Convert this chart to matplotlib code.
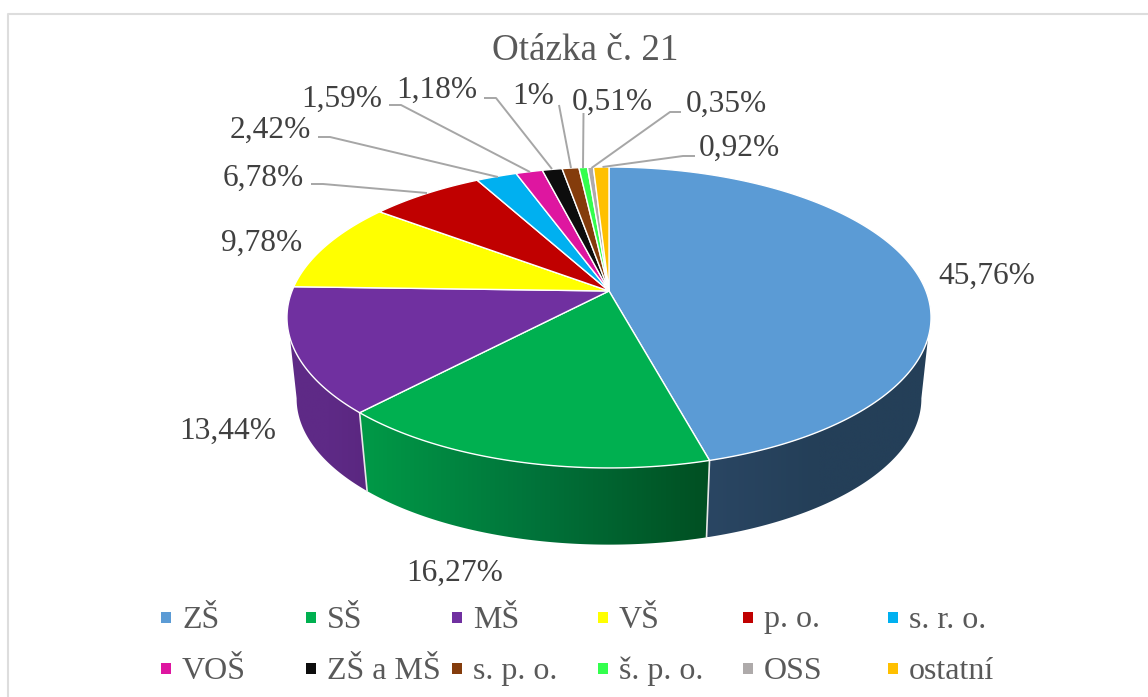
import numpy as np
import matplotlib
matplotlib.use("Agg")
import matplotlib.pyplot as plt
from matplotlib.patches import Polygon, Rectangle

plt.rcParams['font.family'] = ['Liberation Serif', 'DejaVu Serif']

# data
categories = ["ZŠ", "SŠ", "MŠ", "VŠ", "p. o.", "s. r. o.", "VOŠ", "ZŠ a MŠ", "s. p. o.", "š. p. o.", "OSS", "ostatní"]
values = [45.76, 16.27, 13.44, 9.78, 6.78, 2.42, 1.59, 1.18, 1, 0.51, 0.35, 0.92]
value_labels = ["45,76%", "16,27%", "13,44%", "9,78%", "6,78%", "2,42%", "1,59%", "1,18%", "1%", "0,51%", "0,35%", "0,92%"]
colors = ["#5B9BD5", "#00B050", "#7030A0", "#FFFF00", "#C00000", "#00B0F0", "#DE16A0", "#0D0D0D", "#843C0C", "#33FF4D", "#AEAAAA", "#FFC000"]
title = "Otázka č. 21"

# layout
label_pos = [(987, 276), (455, 573), (228, 431), (262, 243), (263, 178), (270, 130),
             (342, 99), (437, 90), (533, 97), (612, 102), (726, 104), (739, 148)]
leaders = {4: [(311, 184), (323, 184), (427, 193)],
           5: [(318, 137), (330, 137), (498, 177)],
           6: [(389, 105), (401, 105), (530, 172)],
           7: [(484, 98), (496, 98), (552, 169)],
           8: [(559, 105), (571, 168)],
           9: [(583.5, 113), (583, 168)],
           10: [(681, 112), (670, 112), (591.5, 168)],
           11: [(695, 156), (683, 156), (602.5, 167)]}
CX, CY = 609, 291
K, A, B = 0.176, 145.8, 317
DEPTH, SHRINK = 82, 0.97

fig = plt.figure(figsize=(11.48, 6.97), dpi=100, facecolor="white")
ax = fig.add_axes([0, 0, 1, 1])
ax.set_xlim(0, 1148)
ax.set_ylim(697, 0)
ax.axis("off")


def top(t):
    d = 1 + K * np.cos(t)
    return CX + B * np.sin(t) / d, CY - A * np.cos(t) / d


def bot(t):
    d = 1 + K * np.cos(t)
    return CX + SHRINK * B * np.sin(t) / d, CY + DEPTH - SHRINK * A * np.cos(t) / d


def arc(f, a, b, n=160):
    t = np.linspace(a, b, n)
    return np.column_stack(f(t))


edges = np.radians(np.concatenate([[0], np.cumsum(values)]) * 3.6)

# frame
ax.plot([8, 8, 1148], [697, 14, 14], color="#DDDDDD", lw=1.5, zorder=0)

# side walls of the three front slices; colours run left to right on screen
T_TOP = np.radians(107.8)
T_BOT = np.radians(100.0)
walls = [
    (T_TOP, edges[1], T_BOT, edges[1], ("#2A4663", "#243F58", "#243F58")),
    (edges[1], edges[2], edges[1], edges[2], ("#009A47", "#00733A", "#004F22")),
    (edges[2], 2 * np.pi - T_TOP, edges[2], 2 * np.pi - T_BOT, ("#5F2A87", "#5E2A86", "#5A2780")),
]
for (a, b, c, d, cols) in walls:
    pts = np.vstack([arc(top, a, b), arc(bot, c, d)[::-1]])
    poly = Polygon(pts, closed=True, facecolor="none", edgecolor="none", zorder=1)
    ax.add_patch(poly)
    x0, x1 = pts[:, 0].min(), pts[:, 0].max()
    y0, y1 = pts[:, 1].min(), pts[:, 1].max()
    rgb = np.array([matplotlib.colors.to_rgb(c_) for c_ in cols])
    s = np.linspace(0, 1, 256)
    img = np.column_stack([np.interp(s, [0, .5, 1], rgb[:, i]) for i in range(3)])[None, :, :]
    im = ax.imshow(img, extent=(x0, x1, y1, y0), aspect="auto", zorder=1, interpolation="bilinear")
    im.set_clip_path(poly)
ax.set_xlim(0, 1148)
ax.set_ylim(697, 0)

# dividers on the wall
for e in edges[1:3]:
    p, q = top(e), bot(e)
    ax.plot([p[0], q[0]], [p[1], q[1]], color="#E8E8E8", lw=1.2, zorder=2)

# top face
for i, col in enumerate(colors):
    pts = np.vstack([[CX, CY], arc(top, edges[i], edges[i + 1], max(8, int(values[i] * 8)))])
    ax.add_patch(Polygon(pts, closed=True, facecolor=col, edgecolor="white", lw=1.0, joinstyle="round", zorder=3))

# leader lines
for pts in leaders.values():
    xs, ys = zip(*pts)
    ax.plot(xs, ys, color="#A6A6A6", lw=1.4, zorder=4, solid_capstyle="butt")

# labels
for (x, y), s in zip(label_pos, value_labels):
    ax.text(x, y, s, ha="center", va="center", fontsize=22.6, color="#404040", zorder=5)
ax.text(585, 51, title, ha="center", va="center", fontsize=26.7, color="#595959", zorder=5)

# legend
col_x = [161, 306, 452, 598, 743, 888]
row_y = [617, 668.5]
for i, (name, col) in enumerate(zip(categories, colors)):
    x, y = col_x[i % 6], row_y[i // 6]
    ax.add_patch(Rectangle((x, y - 5.5), 10, 11, facecolor=col, edgecolor="none", zorder=5))
    ax.text(x + 21, y + 3, name, ha="left", va="center", fontsize=23, color="#595959", zorder=5)

fig.savefig("out.png", dpi=100, facecolor="white")
